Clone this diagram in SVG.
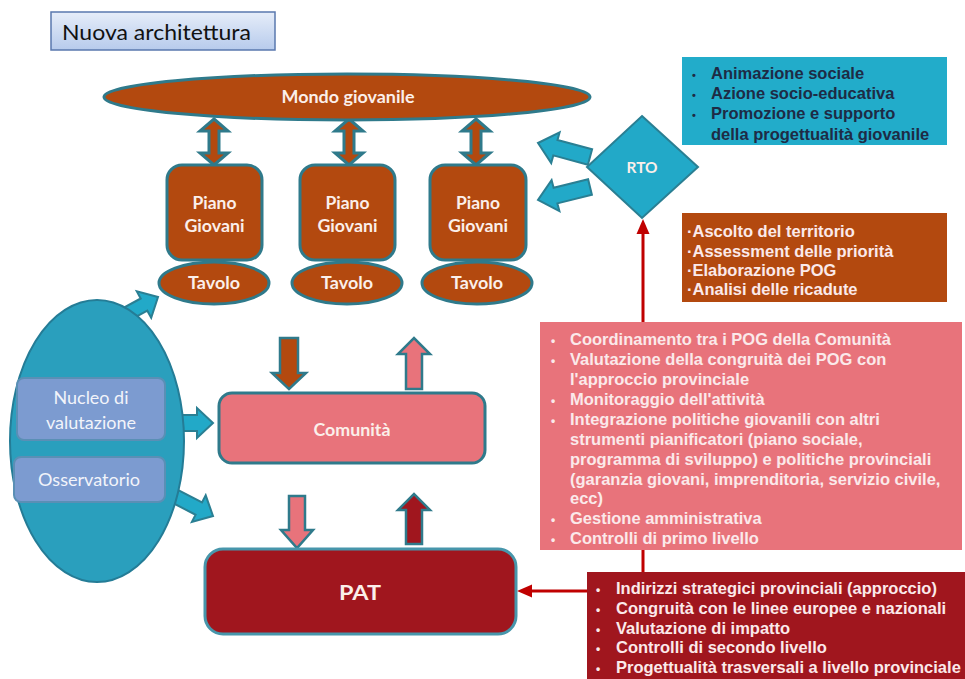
<svg xmlns="http://www.w3.org/2000/svg" width="965" height="679" viewBox="0 0 965 679">
<defs>
<linearGradient id="titleGrad" x1="0" y1="0" x2="0" y2="1">
<stop offset="0" stop-color="#E6EDF9"/>
<stop offset="1" stop-color="#B7CBEC"/>
</linearGradient>
<style>
.brown{fill:#B3490F;stroke:#2F7A8B;stroke-width:3}
.cyan{fill:#22A9C8;stroke:#2A7F93;stroke-width:2}
.pink{fill:#E8737B;stroke:#2F7A8B;stroke-width:3}
.dred{fill:#A0161E;stroke:#4796AB;stroke-width:3}
.blue{fill:#7C9BD0;stroke:#5A8FB5;stroke-width:2}
.lbl{font-family:Lato,"Open Sans","Liberation Sans",sans-serif;font-weight:bold;fill:#FBEFEA;text-anchor:middle}
.lblr{font-family:Lato,"Open Sans","Liberation Sans",sans-serif;fill:#F2F4FA;text-anchor:middle;font-size:17px}
.bt{font-family:"Liberation Sans",Arial,sans-serif;font-weight:bold;font-size:16.5px}
.dark{fill:#1E2B45}
.light{fill:#FBE9EA}
.redline{stroke:#C00000;stroke-width:3;fill:none}
.redhead{fill:#C00000}
</style>
</defs>
<rect width="965" height="679" fill="#FFFFFF"/>

<g id="title">
<rect x="51" y="12" width="224" height="38" fill="url(#titleGrad)" stroke="#5A78AE" stroke-width="1.5"/>
<text x="62" y="40" font-family="Lato,'Open Sans','Liberation Sans',sans-serif" font-size="21" fill="#111" textLength="189" lengthAdjust="spacingAndGlyphs">Nuova architettura</text>
</g>

<g id="connectors">
<polygon class="brown" stroke-width="2.5" points="214,119 228,131 219,131 219,153 228,153 214,165 200,153 209,153 209,131 200,131"/>
<polygon class="brown" stroke-width="2.5" points="349,119 363,131 354,131 354,153 363,153 349,165 335,153 344,153 344,131 335,131"/>
<polygon class="brown" stroke-width="2.5" points="476,119 490,131 481,131 481,153 490,153 476,165 462,153 471,153 471,131 462,131"/>
<polygon class="cyan" points="592.1,149.3 557.5,140 559.6,132.3 538,143 551.2,163.1 553.3,155.4 587.9,164.7"/>
<polygon class="cyan" points="588.1,179.2 553.6,187.8 551.6,180.1 538,200 559.4,211.1 557.4,203.4 591.9,194.8"/>
<polygon class="cyan" points="108.7,315.9 140.7,298.5 136.8,291.4 158,297 151.2,317.8 147.3,310.7 115.3,328.1"/>
<polygon class="cyan" points="163,415 197,415 197,408 213,423 197,438 197,431 163,431"/>
<polygon class="cyan" points="166.2,483.8 202,502.4 205.7,495.3 213,516 191.9,521.9 195.6,514.8 159.8,496.2"/>
<polygon fill="#B3490F" stroke="#2F7A8B" stroke-width="2.5" points="280,338 298,338 298,373 306,373 289,389 272,373 280,373"/>
<polygon fill="#E8737B" stroke="#2F7A8B" stroke-width="2.5" points="406,389 422,389 422,354 430,354 414,338 398,354 406,354"/>
<polygon fill="#E8737B" stroke="#2F7A8B" stroke-width="2.5" points="289,496 305,496 305,530 313,530 297,548 281,530 289,530"/>
<polygon fill="#A0161E" stroke="#2F7A8B" stroke-width="2.5" points="406,544 422,544 422,510 430,510 414,494 398,510 406,510"/>
<line class="redline" x1="643" y1="572" x2="643" y2="232"/>
<polygon class="redhead" points="643,219 636.5,234 649.5,234"/>
<line class="redline" x1="588" y1="591" x2="530" y2="591"/>
<polygon class="redhead" points="517,591 532,584.5 532,597.5"/>
</g>

<g id="mondo">
<ellipse class="brown" cx="347" cy="97" rx="243" ry="23"/>
<text class="lbl" x="348" y="103" font-size="16.5" textLength="133" lengthAdjust="spacingAndGlyphs">Mondo giovanile</text>
</g>

<g id="piano1">
<rect class="brown" x="167" y="165" width="95" height="95" rx="15"/>
<text class="lbl" x="214.5" y="209" font-size="16.5" textLength="44" lengthAdjust="spacingAndGlyphs">Piano</text>
<text class="lbl" x="214.5" y="232" font-size="16.5" textLength="60" lengthAdjust="spacingAndGlyphs">Giovani</text>
</g>
<g id="piano2">
<rect class="brown" x="300" y="165" width="95" height="95" rx="15"/>
<text class="lbl" x="347.5" y="209" font-size="16.5" textLength="44" lengthAdjust="spacingAndGlyphs">Piano</text>
<text class="lbl" x="347.5" y="232" font-size="16.5" textLength="60" lengthAdjust="spacingAndGlyphs">Giovani</text>
</g>
<g id="piano3">
<rect class="brown" x="430" y="165" width="96" height="95" rx="15"/>
<text class="lbl" x="478" y="209" font-size="16.5" textLength="44" lengthAdjust="spacingAndGlyphs">Piano</text>
<text class="lbl" x="478" y="232" font-size="16.5" textLength="60" lengthAdjust="spacingAndGlyphs">Giovani</text>
</g>

<g id="tavolo1">
<ellipse class="brown" cx="214" cy="283" rx="55" ry="21"/>
<text class="lbl" x="214" y="289" font-size="16.5" textLength="52" lengthAdjust="spacingAndGlyphs">Tavolo</text>
</g>
<g id="tavolo2">
<ellipse class="brown" cx="347" cy="283" rx="55" ry="21"/>
<text class="lbl" x="347" y="289" font-size="16.5" textLength="52" lengthAdjust="spacingAndGlyphs">Tavolo</text>
</g>
<g id="tavolo3">
<ellipse class="brown" cx="477" cy="283" rx="55" ry="21"/>
<text class="lbl" x="477" y="289" font-size="16.5" textLength="52" lengthAdjust="spacingAndGlyphs">Tavolo</text>
</g>

<g id="rto">
<polygon class="cyan" points="642,116 698,167 642,218 587,167"/>
<text class="lbl" x="642" y="173" font-size="15" textLength="31" lengthAdjust="spacingAndGlyphs">RTO</text>
</g>

<g id="valutazione">
<ellipse fill="#2A9FBD" stroke="#247C96" stroke-width="2" cx="97" cy="441" rx="87" ry="141"/>
</g>
<g id="nucleo">
<rect class="blue" x="17" y="378" width="148" height="62" rx="7"/>
<text class="lblr" x="91" y="404" textLength="75" lengthAdjust="spacingAndGlyphs">Nucleo di</text>
<text class="lblr" x="91" y="429" textLength="90" lengthAdjust="spacingAndGlyphs">valutazione</text>
</g>
<g id="osservatorio">
<rect class="blue" x="14" y="457" width="151" height="45" rx="7"/>
<text class="lblr" x="89" y="486" textLength="102" lengthAdjust="spacingAndGlyphs">Osservatorio</text>
</g>

<g id="comunita">
<rect class="pink" x="219" y="393" width="266" height="70" rx="13"/>
<text class="lbl" x="352" y="436" font-size="16.5" textLength="77" lengthAdjust="spacingAndGlyphs">Comunità</text>
</g>

<g id="pat">
<rect class="dred" x="205" y="549" width="311" height="85" rx="18"/>
<text class="lbl" x="360" y="600" font-size="21" textLength="42" lengthAdjust="spacingAndGlyphs">PAT</text>
</g>

<g id="box-rto">
<rect x="682" y="57" width="265" height="88" fill="#22ACCA"/>
<g class="bt dark">
<text x="692" y="79" font-size="11">•</text>
<text x="692" y="99" font-size="11">•</text>
<text x="692" y="119" font-size="11">•</text>
<text x="711" y="79">Animazione sociale</text>
<text x="711" y="99">Azione socio-educativa</text>
<text x="711" y="119">Promozione e supporto</text>
<text x="711" y="140">della progettualità giovanile</text>
</g>
</g>

<g id="box-tavolo">
<rect x="682" y="213" width="265" height="89" fill="#B3490F"/>
<g class="bt light">
<text x="687" y="237">·Ascolto del territorio</text>
<text x="687" y="257">·Assessment delle priorità</text>
<text x="687" y="276">·Elaborazione POG</text>
<text x="687" y="295">·Analisi delle ricadute</text>
</g>
</g>

<g id="box-comunita">
<rect x="540" y="322" width="422" height="228" fill="#E8737B"/>
<g class="bt light">
<text x="551" y="345" font-size="12">•</text>
<text x="551" y="365" font-size="12">•</text>
<text x="551" y="405" font-size="12">•</text>
<text x="551" y="425" font-size="12">•</text>
<text x="551" y="524" font-size="12">•</text>
<text x="551" y="544" font-size="12">•</text>
<text x="570" y="345">Coordinamento tra i POG della Comunità</text>
<text x="570" y="365">Valutazione della congruità dei POG con</text>
<text x="570" y="385">l'approccio provinciale</text>
<text x="570" y="405">Monitoraggio dell'attività</text>
<text x="570" y="425">Integrazione politiche giovanili con altri</text>
<text x="570" y="445">strumenti pianificatori (piano sociale,</text>
<text x="570" y="465">programma di sviluppo) e politiche provinciali</text>
<text x="570" y="485">(garanzia giovani, imprenditoria, servizio civile,</text>
<text x="570" y="504">ecc)</text>
<text x="570" y="524">Gestione amministrativa</text>
<text x="570" y="544">Controlli di primo livello</text>
</g>
</g>

<g id="box-pat">
<rect x="587" y="572" width="378" height="107" fill="#A0161E"/>
<g class="bt light">
<text x="596" y="594" font-size="12">•</text>
<text x="596" y="614" font-size="12">•</text>
<text x="596" y="634" font-size="12">•</text>
<text x="596" y="653" font-size="12">•</text>
<text x="596" y="673" font-size="12">•</text>
<text x="616" y="594">Indirizzi strategici provinciali (approccio)</text>
<text x="616" y="614">Congruità con le linee europee e nazionali</text>
<text x="616" y="634">Valutazione di impatto</text>
<text x="616" y="653">Controlli di secondo livello</text>
<text x="616" y="673">Progettualità trasversali a livello provinciale</text>
</g>
</g>
</svg>
